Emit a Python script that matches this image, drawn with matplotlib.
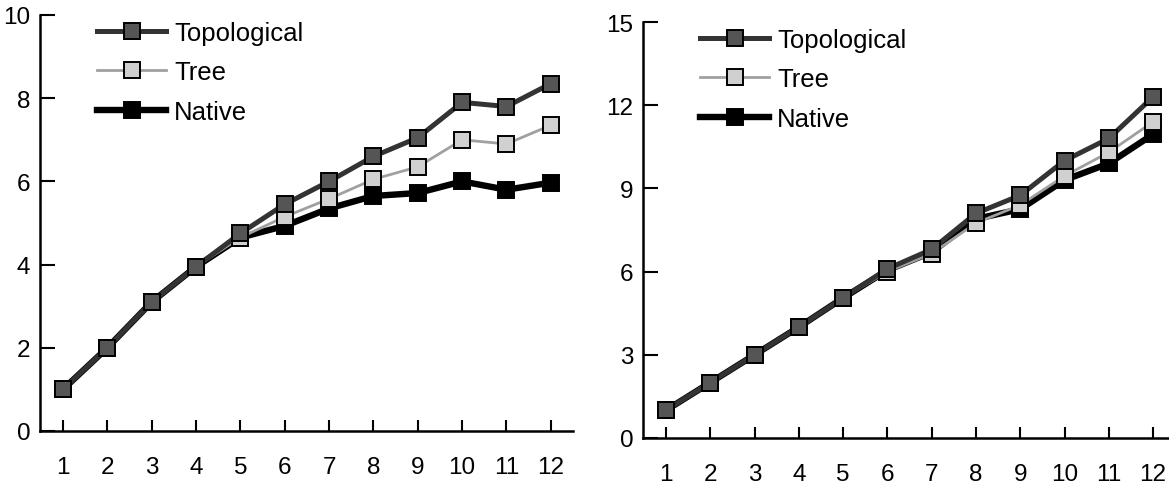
import matplotlib
matplotlib.use("Agg")
import matplotlib.pyplot as plt

plt.rcParams['font.family'] = ['Liberation Sans', 'DejaVu Sans']

x = list(range(1, 13))
x_labels = [str(i) for i in x]

left_topological = [1.0, 2.0, 3.1, 3.95, 4.75, 5.45, 6.0, 6.6, 7.05, 7.9, 7.8, 8.35]
left_tree = [1.0, 2.0, 3.1, 3.95, 4.65, 5.15, 5.58, 6.05, 6.35, 7.0, 6.9, 7.35]
left_native = [1.0, 2.0, 3.1, 3.95, 4.65, 4.93, 5.35, 5.65, 5.72, 6.0, 5.8, 5.97]

right_topological = [1.0, 2.0, 3.0, 4.0, 5.05, 6.1, 6.8, 8.1, 8.75, 10.0, 10.8, 12.3]
right_tree = [1.0, 2.0, 3.0, 4.0, 5.05, 6.0, 6.65, 7.75, 8.4, 9.45, 10.3, 11.4]
right_native = [1.0, 2.0, 3.0, 4.0, 5.05, 6.05, 6.7, 7.9, 8.25, 9.3, 9.9, 10.95]

series_names = ["Topological", "Tree", "Native"]
left_yticks = [0, 2, 4, 6, 8, 10]
right_yticks = [0, 3, 6, 9, 12, 15]

W, H = 1169, 489
fig = plt.figure(figsize=(W / 100, H / 100), dpi=100)

styles = [
    dict(color="#333333", lw=3.6, marker="s", ms=11, mfc="#555555", mec="black", mew=1.4),
    dict(color="#a0a0a0", lw=2.0, marker="s", ms=11, mfc="#d0d0d0", mec="black", mew=1.4),
    dict(color="black", lw=4.6, marker="s", ms=11, mfc="black", mec="black", mew=1.4),
]


def make_axes(rect, xlim, ylim, yticks, data, leg_anchor, labelspacing, xpad):
    ax = fig.add_axes(rect)
    order = [2, 1, 0]
    lines = {}
    for i in order:
        ln, = ax.plot(x, data[i], label=series_names[i], zorder=3 + (2 - i), clip_on=False, **styles[i])
        lines[i] = ln
    ax.set_xlim(*xlim)
    ax.set_ylim(*ylim)
    ax.set_xticks(x)
    ax.set_xticklabels(x_labels)
    ax.set_yticks(yticks)
    ax.spines['top'].set_visible(False)
    ax.spines['right'].set_visible(False)
    ax.spines['left'].set_linewidth(1.8)
    ax.spines['bottom'].set_linewidth(1.8)
    ax.tick_params(axis='x', direction='in', length=8, width=1.5, pad=xpad, labelsize=17.5)
    ax.tick_params(axis='y', direction='in', length=11, width=1.5, pad=7, labelsize=17.5)
    ax.legend([lines[0], lines[1], lines[2]], series_names, loc='upper left',
              bbox_to_anchor=leg_anchor, bbox_transform=fig.transFigure,
              frameon=False, fontsize=18.5, numpoints=1, handlelength=2.7,
              handletextpad=0.3, labelspacing=labelspacing, borderpad=0, borderaxespad=0)
    return ax


make_axes([40 / W, 1 - 432 / H, 533 / W, 416 / H], (0.482, 12.5), (0, 10), left_yticks,
          [left_topological, left_tree, left_native], (97 / W, 1 - 22 / H), 0.6, 18)
make_axes([643 / W, 1 - 439 / H, 526 / W, 416 / H], (0.48, 12.36), (0, 15), right_yticks,
          [right_topological, right_tree, right_native], (700 / W, 1 - 29 / H), 0.6, 18)

fig.savefig("out.png", dpi=100)
